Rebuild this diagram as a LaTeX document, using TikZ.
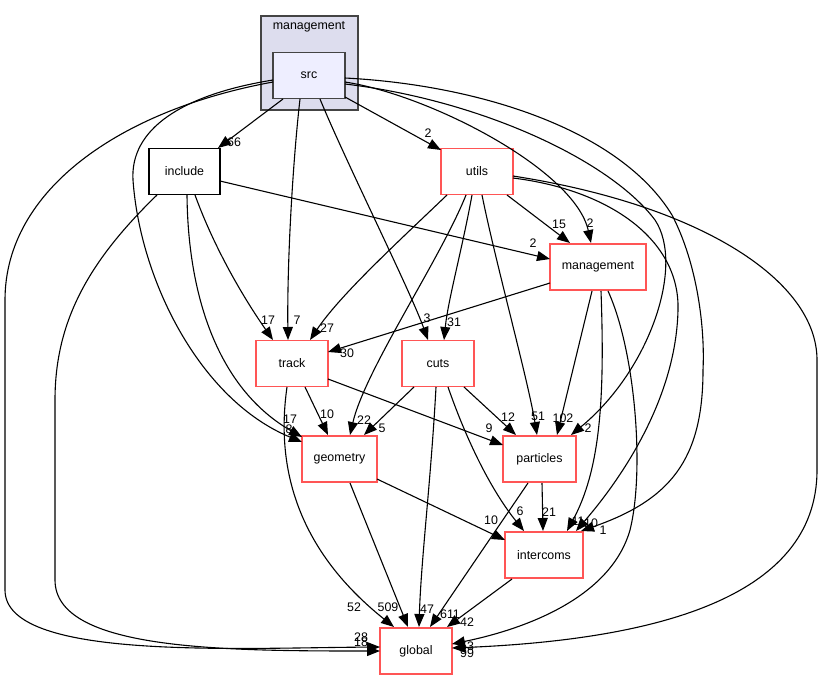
\documentclass[tikz,border=0pt]{standalone}
\usepackage{fontspec}
\setmainfont{Liberation Sans}
\usetikzlibrary{arrows.meta}
\definecolor{redb}{RGB}{255,85,85}
\definecolor{clfill}{RGB}{221,221,238}
\definecolor{srcfill}{RGB}{238,238,255}
\definecolor{clborder}{RGB}{68,68,68}
\begin{document}
\begin{tikzpicture}[x=1pt,y=-1pt,font=\fontsize{12.4}{14}\selectfont,
  dirbox/.style={draw=redb,line width=1.4pt,fill=white,minimum height=46pt,inner sep=0pt},
  plainbox/.style={draw=black,line width=1.1pt,fill=white,minimum height=46pt,inner sep=0pt},
  srcbox/.style={draw=clborder,line width=1.1pt,fill=srcfill,minimum height=46pt,inner sep=0pt},
  dep/.style={-{Triangle[length=13pt,width=10pt]},line width=1.1pt,black},
  lbl/.style={inner sep=0pt}]
\path[use as bounding box] (0,0) rectangle (821,681);
% cluster
\node[draw=clborder,line width=1.1pt,fill=clfill,minimum width=97pt,minimum height=94pt,inner sep=0pt] (cluster) at (309.5,63) {};
\node[lbl] (cltitle) at (309,27) {management};
% nodes
\node[srcbox,minimum width=72pt] (src) at (309,75.5) {src};
\node[plainbox,minimum width=71pt] (include) at (184.5,171.5) {include};
\node[dirbox,minimum width=72pt] (utils) at (477,171.5) {utils};
\node[dirbox,minimum width=96pt] (mgmt) at (598,267) {management};
\node[dirbox,minimum width=72pt] (track) at (292,363.5) {track};
\node[dirbox,minimum width=72pt] (cuts) at (438,363.5) {cuts};
\node[dirbox,minimum width=75pt] (geometry) at (339.5,459) {geometry};
\node[dirbox,minimum width=73pt] (particles) at (539.5,459) {particles};
\node[dirbox,minimum width=78pt] (intercoms) at (544,555) {intercoms};
\node[dirbox,minimum width=72pt] (global) at (416,651) {global};

% edges from src
\draw[dep] ([shift={(-26,23.5)}]src.center) -- ([shift={(33.5,-23.5)}]include.center);
\draw[dep] ([shift={(36,21.5)}]src.center) -- ([shift={(-36,-21.5)}]utils.center);
\draw[dep] ([shift={(-9,23.5)}]src.center) .. controls (293,160) and (287,260) .. ([shift={(-4,-23.5)}]track.center);
\draw[dep] ([shift={(11,23.5)}]src.center) .. controls (345,160) and (410,290) .. ([shift={(-10,-23.5)}]cuts.center);
\draw[dep] ([shift={(36,6.5)}]src.center) .. controls (430,95) and (575,170) .. ([shift={(-7,-24)}]mgmt.center);
\draw[dep] ([shift={(36,8.5)}]src.center) .. controls (480,100) and (610,160) .. (655,220) .. controls (685,265) and (650,370) .. ([shift={(31.5,-24)}]particles.center);
\draw[dep] ([shift={(36,2.5)}]src.center) .. controls (480,85) and (620,130) .. (672,215) .. controls (698,265) and (705,330) .. (703,370) .. controls (703,460) and (670,500) .. ([shift={(37,-24)}]intercoms.center);
\draw[dep] ([shift={(-36,4.5)}]src.center) .. controls (180,95) and (130,130) .. (133,180) .. controls (140,280) and (200,400) .. ([shift={(-37.5,-17)}]geometry.center);
\draw[dep] ([shift={(-36,6.5)}]src.center) .. controls (120,110) and (5,190) .. (5,300) -- (5,590) .. controls (5,660) and (230,648) .. ([shift={(-36,-4)}]global.center);

% edges from include
\draw[dep] ([shift={(35.5,9.5)}]include.center) -- ([shift={(-48,-8)}]mgmt.center);
\draw[dep] ([shift={(10.5,23.5)}]include.center) .. controls (215,250) and (245,300) .. ([shift={(-19,-23.5)}]track.center);
\draw[dep] ([shift={(2.5,23.5)}]include.center) .. controls (188,300) and (220,390) .. ([shift={(-37.5,-22)}]geometry.center);
\draw[dep] ([shift={(-27.5,23.5)}]include.center) .. controls (90,260) and (55,320) .. (55,400) -- (55,580) .. controls (55,650) and (220,651) .. ([shift={(-36,0)}]global.center);

% edges from utils
\draw[dep] ([shift={(30,23.5)}]utils.center) -- ([shift={(-28,-24)}]mgmt.center);
\draw[dep] ([shift={(-30,23.5)}]utils.center) .. controls (400,240) and (340,295) .. ([shift={(18,-23.5)}]track.center);
\draw[dep] ([shift={(-5,23.5)}]utils.center) .. controls (462,250) and (448,300) .. ([shift={(6,-23.5)}]cuts.center);
\draw[dep] ([shift={(-11,23.5)}]utils.center) .. controls (440,260) and (365,370) .. ([shift={(10.5,-24)}]geometry.center);
\draw[dep] ([shift={(5,23.5)}]utils.center) .. controls (495,260) and (528,380) .. ([shift={(-2.5,-24)}]particles.center);
\draw[dep] ([shift={(36,6.5)}]utils.center) .. controls (610,190) and (680,240) .. (678,310) .. controls (676,400) and (620,480) .. ([shift={(32,-24)}]intercoms.center);
\draw[dep] ([shift={(36,4.5)}]utils.center) .. controls (700,205) and (817,280) .. (817,360) -- (817,470) .. controls (817,600) and (650,640) .. ([shift={(36,-3)}]global.center);

% edges from management
\draw[dep] ([shift={(-48,16)}]mgmt.center) -- ([shift={(36,-11.5)}]track.center);
\draw[dep] ([shift={(-6,24)}]mgmt.center) -- ([shift={(17.5,-24)}]particles.center);
\draw[dep] ([shift={(3,24)}]mgmt.center) .. controls (605,400) and (600,470) .. ([shift={(23,-24)}]intercoms.center);
\draw[dep] ([shift={(10,24)}]mgmt.center) .. controls (635,350) and (645,470) .. (630,530) .. controls (610,600) and (520,630) .. ([shift={(36,-7)}]global.center);

% edges from track
\draw[dep] ([shift={(13,23.5)}]track.center) -- ([shift={(-11.5,-24)}]geometry.center);
\draw[dep] ([shift={(36,15.5)}]track.center) -- ([shift={(-36.5,-14)}]particles.center);
\draw[dep] ([shift={(-5,23.5)}]track.center) .. controls (278,450) and (285,540) .. ([shift={(-22,-24)}]global.center);

% edges from cuts
\draw[dep] ([shift={(-24,23.5)}]cuts.center) -- ([shift={(24.5,-24)}]geometry.center);
\draw[dep] ([shift={(26,23.5)}]cuts.center) -- ([shift={(-23.5,-24)}]particles.center);
\draw[dep] ([shift={(10,23.5)}]cuts.center) .. controls (470,450) and (495,495) .. ([shift={(-20,-24)}]intercoms.center);
\draw[dep] ([shift={(-2,23.5)}]cuts.center) .. controls (431,480) and (421,560) .. ([shift={(3,-24)}]global.center);

% edges from geometry
\draw[dep] ([shift={(37.5,20)}]geometry.center) -- ([shift={(-39,-15)}]intercoms.center);
\draw[dep] ([shift={(10.5,24)}]geometry.center) -- ([shift={(-8,-24)}]global.center);

% edges from particles
\draw[dep] ([shift={(2.5,24)}]particles.center) -- ([shift={(-1,-24)}]intercoms.center);
\draw[dep] ([shift={(-11.5,24)}]particles.center) -- ([shift={(14,-24)}]global.center);

% edge from intercoms
\draw[dep] ([shift={(-32,24)}]intercoms.center) -- ([shift={(31,-24)}]global.center);

% labels
\node[lbl] (l1) at (234,142) {66};
\node[lbl] (l2) at (428,133) {2};
\node[lbl] (l3) at (297,320) {7};
\node[lbl] (l4) at (427,318) {3};
\node[lbl] (l5) at (590,223) {2};
\node[lbl] (l6) at (588,428) {2};
\node[lbl] (l7) at (603,530) {1};
\node[lbl] (l8) at (289,429) {8};
\node[lbl] (l9) at (361,637) {28};
\node[lbl] (l10) at (533,243) {2};
\node[lbl] (l11) at (268,320) {17};
\node[lbl] (l12) at (290,419) {17};
\node[lbl] (l13) at (361,642) {18};
\node[lbl] (l14) at (559,224) {15};
\node[lbl] (l15) at (327,328) {27};
\node[lbl] (l16) at (454,322) {31};
\node[lbl] (l17) at (364,420) {22};
\node[lbl] (l18) at (538,416) {51};
\node[lbl] (l19) at (591,523) {10};
\node[lbl] (l20) at (467,653) {99};
\node[lbl] (l21) at (347,353) {30};
\node[lbl] (l22) at (563,418) {102};
\node[lbl] (l23) at (578,521) {11};
\node[lbl] (l24) at (467,646) {53};
\node[lbl] (l25) at (327,414) {10};
\node[lbl] (l26) at (489,428) {9};
\node[lbl] (l27) at (354,607) {52};
\node[lbl] (l28) at (382,428) {5};
\node[lbl] (l29) at (508,417) {12};
\node[lbl] (l30) at (520,511) {6};
\node[lbl] (l31) at (427,609) {47};
\node[lbl] (l32) at (491,520) {10};
\node[lbl] (l33) at (388,607) {509};
\node[lbl] (l34) at (549,512) {21};
\node[lbl] (l35) at (450,614) {611};
\node[lbl] (l36) at (467,622) {42};
\end{tikzpicture}
\end{document}
